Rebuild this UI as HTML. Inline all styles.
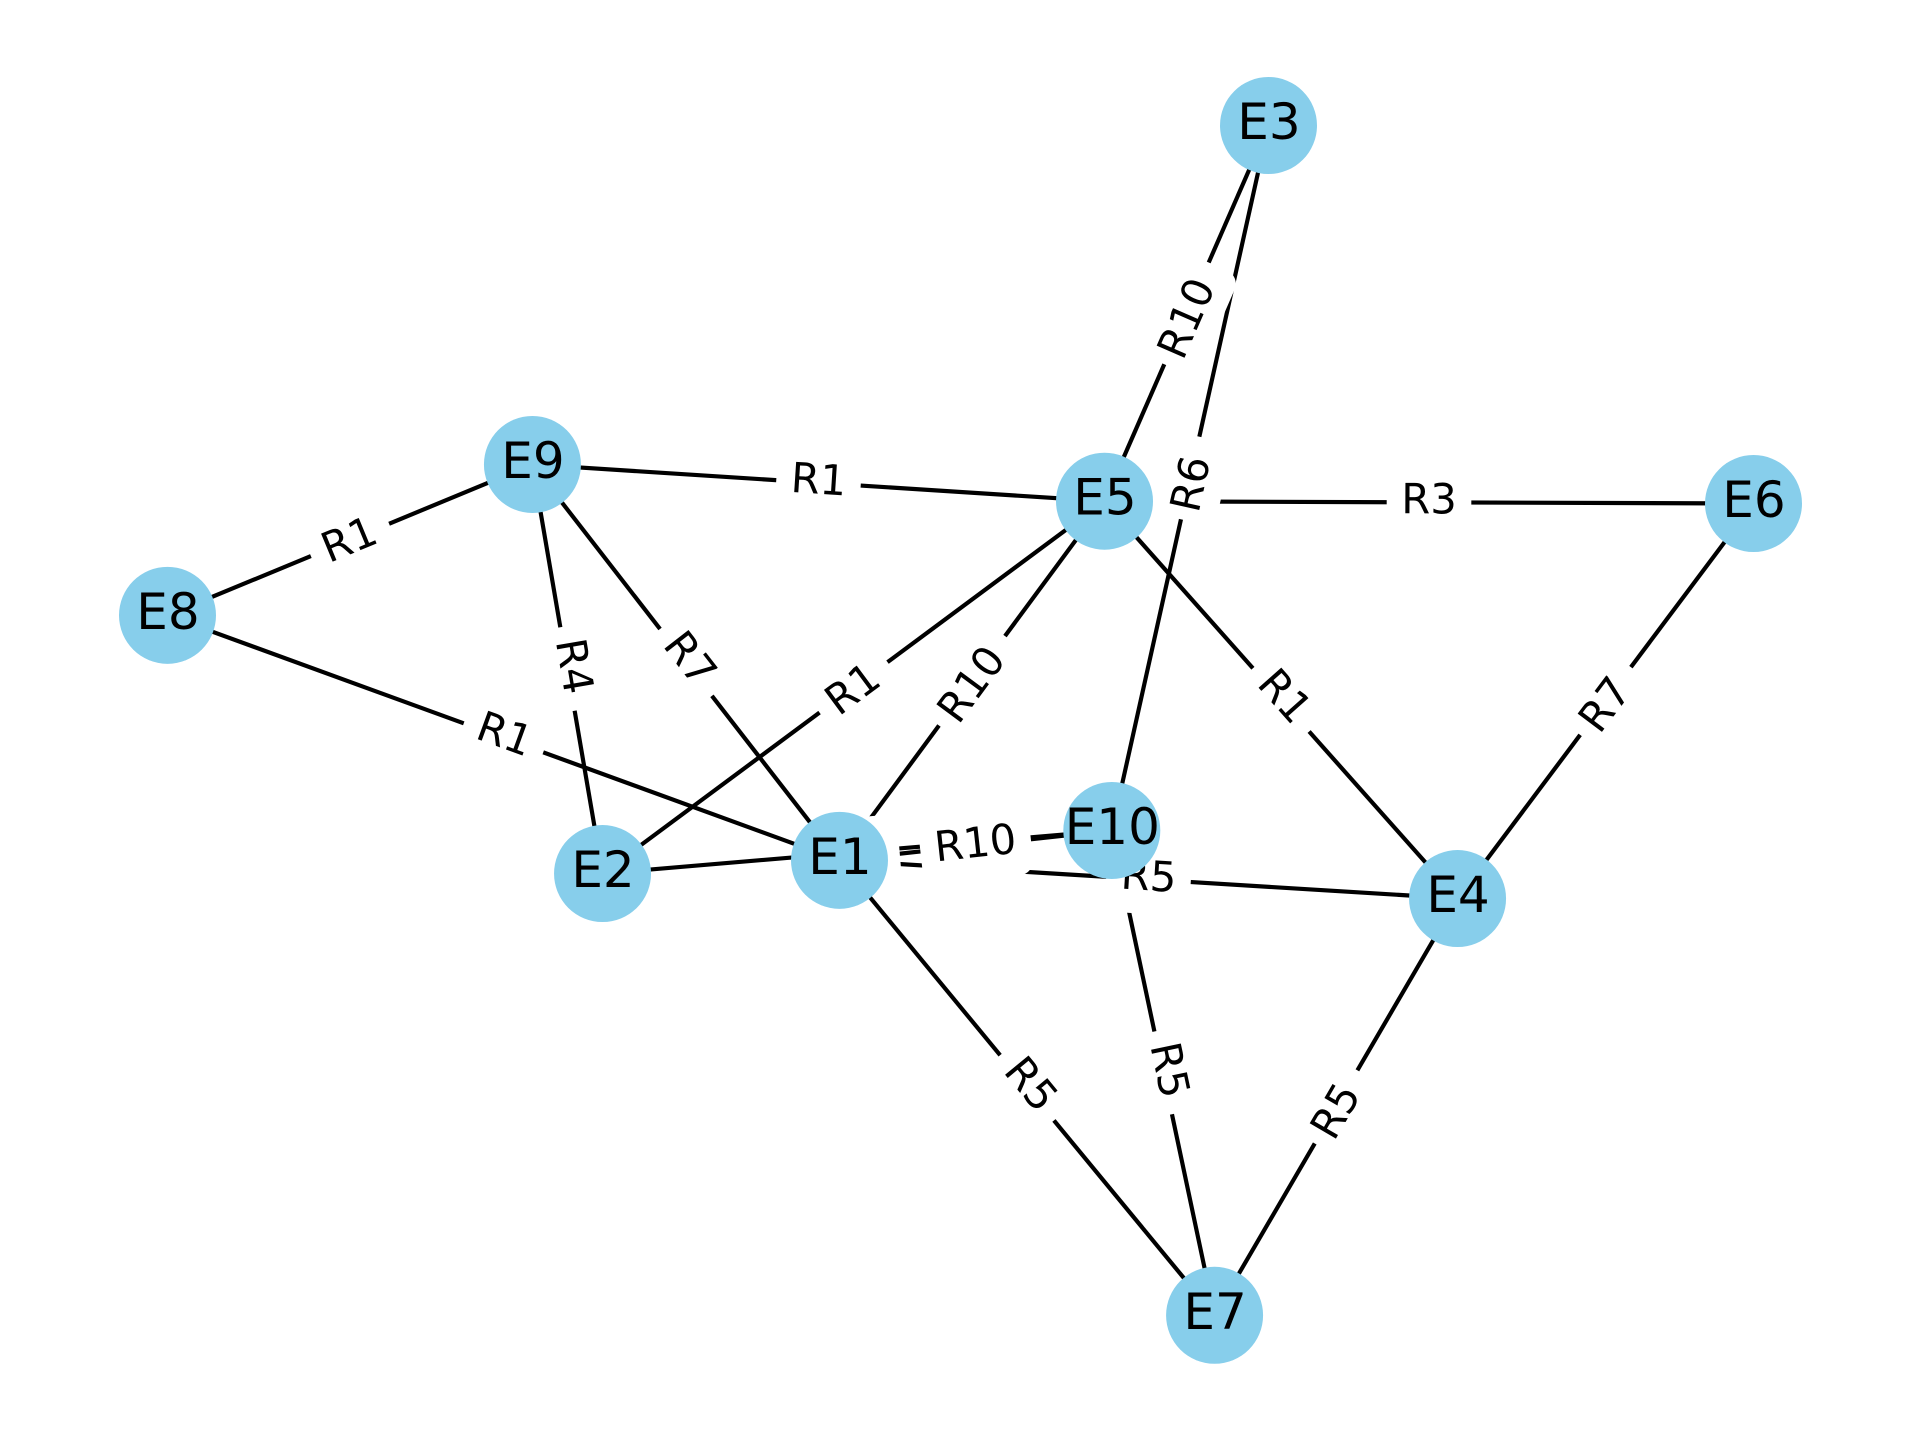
<!DOCTYPE html>
<html lang="en">
<head>
<meta charset="utf-8">
<title>Entity relation network</title>
<style>
  html, body { margin: 0; padding: 0; background: #ffffff; }
  #graph { display: block; }
  text { font-family: "DejaVu Sans", "Liberation Sans", sans-serif; fill: #000000; }
</style>
</head>
<body>
<svg id="graph" xmlns="http://www.w3.org/2000/svg" width="1920" height="1440" viewBox="0 0 1920 1440">
  <rect x="0" y="0" width="1920" height="1440" fill="#ffffff"></rect>
  <g id="edges"></g>
  <g id="edge-labels"></g>
  <g id="nodes"></g>
</svg>
<script>
const nodeNames = ['E1', 'E2', 'E3', 'E4', 'E5', 'E6', 'E7', 'E8', 'E9', 'E10'];
const nodeLayoutX = [0.4237, 0.2743, 0.6942, 0.8134, 0.5908, 1.0, 0.6602, 0.0, 0.2301, 0.5954];
const nodeLayoutY = [0.3824, 0.3713, 1.0, 0.3503, 0.6842, 0.6823, 0.0, 0.5883, 0.7151, 0.4075];

const edgeSources = ['E8', 'E8', 'E9', 'E9', 'E9', 'E2', 'E2', 'E1', 'E1', 'E1', 'E1', 'E5', 'E3', 'E5', 'E5', 'E4', 'E4', 'E10'];
const edgeTargets = ['E9', 'E1', 'E5', 'E2', 'E1', 'E5', 'E10', 'E5', 'E10', 'E4', 'E7', 'E3', 'E10', 'E6', 'E4', 'E6', 'E7', 'E7'];
const edgeRelations = ['R1', 'R1', 'R1', 'R4', 'R7', 'R1', 'R5', 'R10', 'R10', 'R5', 'R5', 'R10', 'R6', 'R3', 'R1', 'R7', 'R5', 'R5'];

const SVG_NS = 'http://www.w3.org/2000/svg';
const xAxis = v => 167.5 + v * 1586;
const yAxis = v => 1315.3 - v * 1189.8;

const edgeLayer = document.getElementById('edges');
const labelLayer = document.getElementById('edge-labels');
const nodeLayer = document.getElementById('nodes');

function make(tag, attrs, parent) {
  const el = document.createElementNS(SVG_NS, tag);
  Object.keys(attrs).forEach(k => el.setAttribute(k, attrs[k]));
  parent.appendChild(el);
  return el;
}

function nodeX(name) { return xAxis(nodeLayoutX[nodeNames.indexOf(name)]); }
function nodeY(name) { return yAxis(nodeLayoutY[nodeNames.indexOf(name)]); }

edgeRelations.forEach((rel, i) => {
  const a = edgeSources[i];
  const b = edgeTargets[i];
  const x1 = nodeX(a), y1 = nodeY(a), x2 = nodeX(b), y2 = nodeY(b);

  const line = make('line', { x1: x1, y1: y1, x2: x2, y2: y2, stroke: '#000000', 'stroke-width': 4.17 }, edgeLayer);
  
  

  let angle = Math.atan2(y2 - y1, x2 - x1) * 180 / Math.PI;
  if (angle > 90) angle -= 180;
  if (angle < -90) angle += 180;
  const mx = (x1 + x2) / 2, my = (y1 + y2) / 2;
  const steep = Math.abs(Math.sin(angle * Math.PI / 180));

  const group = make('g', {}, labelLayer);
  
  

  const box = make('rect', { fill: '#ffffff', stroke: '#ffffff', 'stroke-width': 4.17, rx: 12.5, ry: 12.5,
    transform: 'translate(' + mx + ' ' + my + ') rotate(' + angle + ')' }, group);
  
  

  const txt = make('text', { x: -4.5, y: 11, 'text-anchor': 'middle', 'font-size': 41.67,
    transform: 'translate(' + (mx + 4.5) + ' ' + (my + 2.2 * steep) + ') rotate(' + angle + ')' }, group);
  
  
  txt.textContent = rel;

  const w = txt.getComputedTextLength();
  box.setAttribute('x', -w / 2 - 12.5);
  box.setAttribute('y', -32.5);
  box.setAttribute('width', w + 25);
  box.setAttribute('height', 65);
});

nodeNames.forEach(name => {
  const cx = nodeX(name), cy = nodeY(name);

  const circle = make('circle', { cx: cx, cy: cy, r: 48.5, fill: '#87ceeb' }, nodeLayer);
  
  

  const label = make('text', { x: cx + 0.5, y: cy + 13.5, 'text-anchor': 'middle', 'font-size': 50 }, nodeLayer);
  
  
  label.textContent = name;
});
</script>
</body>
</html>
